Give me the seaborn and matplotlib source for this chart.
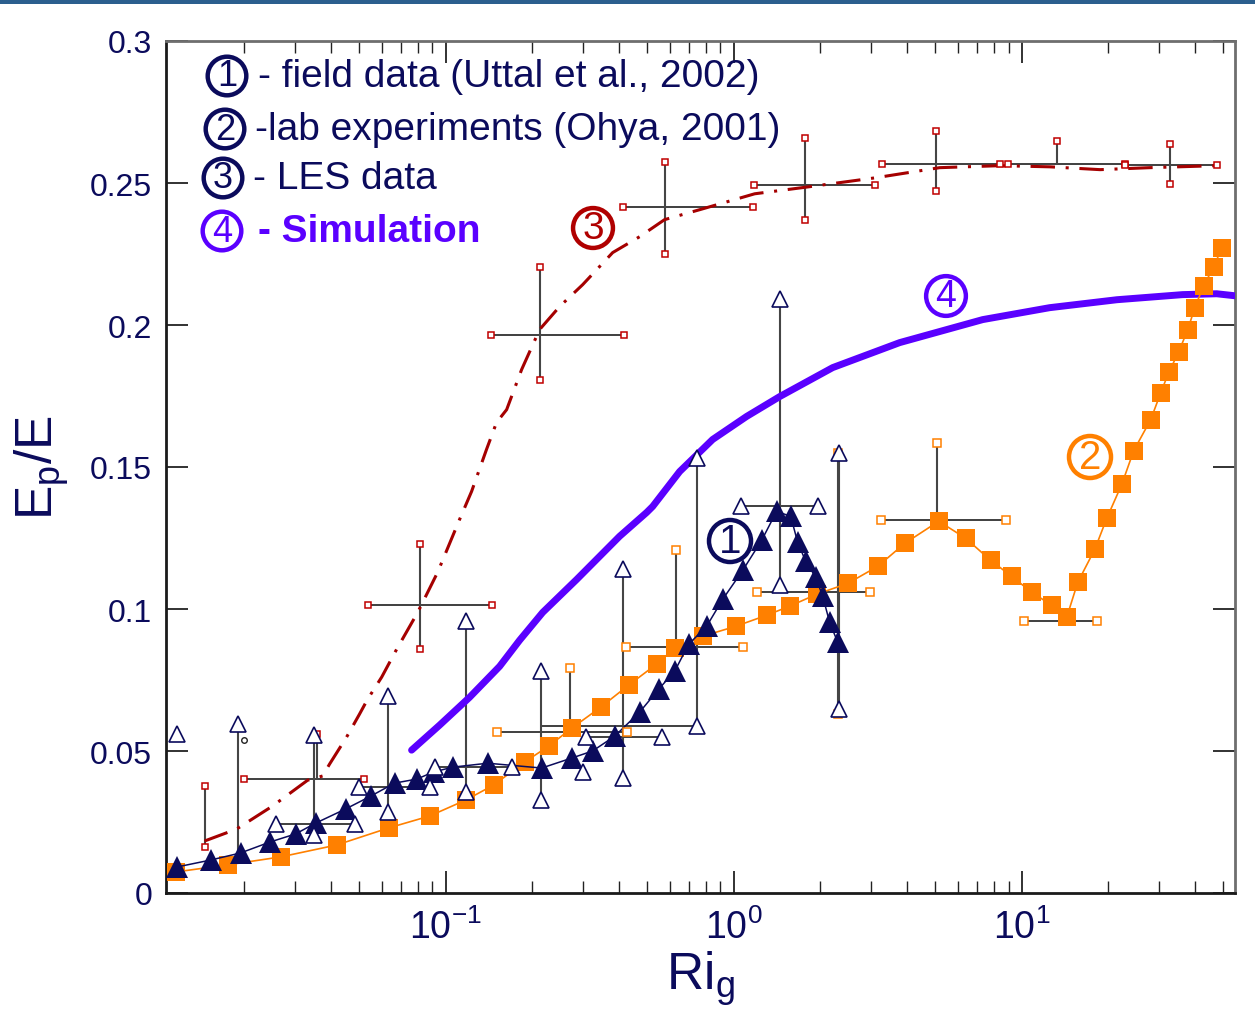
import numpy as np
import matplotlib
matplotlib.use('Agg')
import matplotlib.pyplot as plt
import seaborn as sns
from matplotlib.ticker import FuncFormatter, LogLocator, NullFormatter
from matplotlib.patches import Rectangle

nan = np.nan

#%% data
# 1 - field data (Uttal et al., 2002), filled triangles
field_ri = [0.01173, 0.01528, 0.01942, 0.02449, 0.03014, 0.03539, 0.0450, 0.05495, 0.06653, 0.07932,
            0.09084, 0.1057, 0.1400, 0.2155, 0.2738, 0.3238, 0.3862, 0.4718, 0.5495, 0.6241,
            0.6981, 0.8055, 0.9160, 1.075, 1.251, 1.410, 1.578, 1.668, 1.778, 1.926,
            2.037, 2.154, 2.297]
field_ep = [0.0092, 0.0116, 0.0141, 0.0179, 0.0208, 0.0246, 0.0296, 0.0341, 0.0387, 0.0401,
            0.0426, 0.0443, 0.0457, 0.0440, 0.0475, 0.0500, 0.0552, 0.0637, 0.0718, 0.0781,
            0.0876, 0.0939, 0.1034, 0.1136, 0.1242, 0.1344, 0.1326, 0.1235, 0.1168, 0.1112,
            0.1045, 0.0953, 0.0883]
# field data error bars (open triangles at the ends)
fe_x   = [0.01896, 0.0348, 0.0629, 0.1173, 0.2138, 0.4118, 0.7441, 1.445, 2.316]
fe_y   = [0.0141, 0.0243, 0.0373, 0.0443, 0.0587, 0.0549, 0.0601, 0.1361, 0.0883]
fe_xlo = [nan, 0.0257, 0.0499, 0.0916, nan, 0.306, nan, 1.057, nan]
fe_xhi = [nan, 0.0483, 0.0880, 0.1695, 0.7441, 0.5623, nan, 1.958, nan]
fe_ylo = [nan, 0.0204, 0.0285, 0.0355, 0.0327, 0.0405, nan, 0.1083, 0.0647]
fe_yhi = [0.0594, 0.0556, 0.0693, 0.0957, 0.0781, 0.1140, 0.1530, 0.2093, 0.1551]
lone_ri = [0.01173, 0.299]
lone_ep = [0.0559, 0.0426]

# 2 - lab experiments (Ohya, 2001), filled squares
lab_ri = [0.01155, 0.0175, 0.02674, 0.04185, 0.06339, 0.08799, 0.1173, 0.1468, 0.1880, 0.2278,
          0.2738, 0.3452, 0.4319, 0.5403, 0.6238, 0.7806, 1.016, 1.302, 1.565, 1.942,
          2.488, 3.162, 3.925, 5.150, 6.392, 7.805, 9.23, 10.83, 12.71, 14.33,
          15.65, 17.93, 19.73, 22.25, 24.49, 28.05, 30.39, 32.39, 35.09, 37.72,
          39.88, 42.85, 46.42, 49.49]
lab_ep = [0.0074, 0.0099, 0.0127, 0.0169, 0.0229, 0.0271, 0.0327, 0.0380, 0.0461, 0.0517,
          0.0580, 0.0654, 0.0732, 0.0806, 0.0862, 0.0904, 0.0939, 0.0978, 0.1010, 0.1052,
          0.1090, 0.1150, 0.1231, 0.1309, 0.1249, 0.1171, 0.1115, 0.1059, 0.1013, 0.0971,
          0.1094, 0.1210, 0.1319, 0.1439, 0.1558, 0.1667, 0.1762, 0.1833, 0.1906, 0.1984,
          0.2061, 0.2139, 0.2205, 0.2272]
le_x   = [0.2695, 0.6288, 2.297, 5.07, 14.33]
le_y   = [0.0566, 0.0865, 0.1059, 0.1312, 0.0957]
le_xlo = [0.1503, 0.4217, 1.202, 3.239, 10.16]
le_xhi = [0.4251, 1.075, 2.966, 8.80, 18.22]
le_ylo = [nan, nan, 0.0630, nan, nan]
le_yhi = [0.0791, 0.1206, 0.1551, 0.1583, nan]

# 3 - LES data
les_ri = [0.01456, 0.0188, 0.02506, 0.03318, 0.03741, 0.03956, 0.04532, 0.05026, 0.0536, 0.05998,
          0.0676, 0.0800, 0.0938, 0.1119, 0.1231, 0.1387, 0.1503, 0.1629, 0.1836, 0.2120,
          0.2488, 0.2991, 0.3802, 0.4718, 0.5757, 0.7621, 1.183, 1.835, 3.09, 5.19,
          8.39, 12.5, 18.7, 27.8, 47.5]
les_ep = [0.0183, 0.0225, 0.0306, 0.0397, 0.0412, 0.0454, 0.0549, 0.0630, 0.0682, 0.0760,
          0.0858, 0.0988, 0.1129, 0.1316, 0.1414, 0.1562, 0.1657, 0.1702, 0.1843, 0.1984,
          0.2065, 0.2142, 0.2255, 0.2311, 0.2371, 0.2406, 0.2462, 0.2487, 0.2518, 0.2554,
          0.2561, 0.2557, 0.2547, 0.2554, 0.2561]
se_x   = [0.01456, 0.0359, 0.0818, 0.2120, 0.5757, 1.764, 5.03, 13.23, 32.64]
se_y   = [0.0270, 0.0401, 0.1013, 0.1966, 0.2416, 0.2494, 0.2568, 0.2568, 0.2564]
se_xlo = [nan, 0.0199, 0.0536, 0.1433, 0.412, 1.18, 3.26, 8.94, 22.79]
se_xhi = [nan, 0.0519, 0.1445, 0.415, 1.17, 3.09, 8.39, 22.79, 47.5]
se_ylo = [0.0162, nan, 0.0858, 0.1808, 0.2251, 0.2371, 0.2473, nan, 0.2497]
se_yhi = [0.0376, 0.0559, 0.1228, 0.2205, 0.2575, 0.2659, 0.2684, 0.2649, 0.2638]

# 4 - Simulation
sim_ri = [0.0762, 0.0953, 0.1211, 0.154, 0.1807, 0.2173, 0.2851, 0.4018, 0.4989, 0.5234,
          0.6494, 0.8455, 1.109, 1.445, 2.207, 3.77, 7.32, 12.5, 21.4, 36.2, 47.5, 54.9]
sim_ep = [0.0503, 0.0591, 0.0689, 0.0798, 0.0890, 0.0988, 0.1104, 0.1256, 0.1340, 0.1361,
          0.1484, 0.1597, 0.1678, 0.1748, 0.1850, 0.1938, 0.2019, 0.2061, 0.2089, 0.2107,
          0.2110, 0.2103]

navy = '#0b0b5c'
orange = '#ff8000'
darkred = '#a50000'
purple = '#5a00ff'

#%% style
sns.set_style('ticks')
plt.rcParams['font.family'] = ['Liberation Sans', 'DejaVu Sans']
plt.rcParams['mathtext.default'] = 'regular'

W, H = 1255, 1012
fig, ax = plt.subplots(figsize=(W / 100, H / 100), dpi=100)
fig.subplots_adjust(left=166 / W, right=1235 / W, bottom=1 - 894 / H, top=1 - 42 / H)

def crosses(ax, cx, cy, xlo, xhi, ylo, yhi, **cap_kws):
    capx, capy = [], []
    for i in range(len(cx)):
        x0 = cx[i] if np.isnan(xlo[i]) else xlo[i]
        x1 = cx[i] if np.isnan(xhi[i]) else xhi[i]
        y0 = cy[i] if np.isnan(ylo[i]) else ylo[i]
        y1 = cy[i] if np.isnan(yhi[i]) else yhi[i]
        if x0 != x1:
            ax.plot([x0, x1], [cy[i], cy[i]], color='#303030', lw=1.3, zorder=2)
        if y0 != y1:
            ax.plot([cx[i], cx[i]], [y0, y1], color='#454545', lw=1.5, zorder=2)
        for v, px, py in [(xlo[i], xlo[i], cy[i]), (xhi[i], xhi[i], cy[i]),
                          (ylo[i], cx[i], ylo[i]), (yhi[i], cx[i], yhi[i])]:
            if not np.isnan(v):
                capx.append(px)
                capy.append(py)
    ax.plot(capx, capy, ls='none', zorder=5, **cap_kws)

crosses(ax, se_x, se_y, se_xlo, se_xhi, se_ylo, se_yhi,
        marker='s', ms=5, mfc='white', mec='#c00000', mew=1.1)
crosses(ax, le_x, le_y, le_xlo, le_xhi, le_ylo, le_yhi,
        marker='s', ms=6, mfc='white', mec=orange, mew=1.1)
crosses(ax, fe_x, fe_y, fe_xlo, fe_xhi, fe_ylo, fe_yhi,
        marker='^', ms=12, mfc='white', mec=navy, mew=1.2)
ax.plot(lone_ri, lone_ep, ls='none', marker='^', ms=12, mfc='white', mec=navy, mew=1.2, zorder=5)
ax.plot([0.0200], [0.0538], ls='none', marker='o', ms=4, mfc='white', mec='#222222', mew=1, zorder=5)

#%% curves
sns.lineplot(x=sim_ri, y=sim_ep, color=purple, lw=5, sort=False, estimator=None, ax=ax, zorder=3)
sns.lineplot(x=les_ri, y=les_ep, color=darkred, lw=2.2, linestyle=(0, (8, 3.5, 1, 3.5)),
             sort=False, estimator=None, ax=ax, zorder=3)
sns.lineplot(x=lab_ri, y=lab_ep, color=orange, lw=1.2, marker='s', markersize=12.5,
             markeredgecolor=orange, markeredgewidth=0, sort=False, estimator=None, ax=ax, zorder=3)
sns.lineplot(x=field_ri, y=field_ep, color=navy, lw=1.1, marker='^', markersize=16,
             markeredgecolor=navy, markeredgewidth=0, sort=False, estimator=None, ax=ax, zorder=4)

#%% axes
ax.set_xscale('log')
ax.set_xlim(0.0107, 55)
ax.set_ylim(0, 0.3)
ax.set_yticks(np.arange(0, 0.301, 0.05))
ax.yaxis.set_major_formatter(FuncFormatter(lambda v, p: f'{v:g}'))
ax.xaxis.set_major_locator(LogLocator(base=10))
ax.xaxis.set_minor_locator(LogLocator(base=10, subs=np.arange(2, 10)))
ax.xaxis.set_minor_formatter(NullFormatter())
ax.tick_params(which='major', direction='in', length=15.5, width=1.3, color='#222222',
               top=True, right=True, labelsize=23, labelcolor=navy, pad=10)
ax.tick_params(axis='x', which='major', labelsize=27, pad=11)
ax.tick_params(which='minor', direction='in', length=8.5, width=1.0, color='#222222',
               top=True, right=True)
for side in ['left', 'bottom']:
    ax.spines[side].set_color('#1a1a1a')
    ax.spines[side].set_linewidth(2)
for side in ['top', 'right']:
    ax.spines[side].set_color('#6e6e6e')
    ax.spines[side].set_linewidth(2)

ax.set_xlabel('Ri$_{g}$', fontsize=37, color=navy, labelpad=2)
ax.set_ylabel('E$_{p}$/E', fontsize=37, color=navy, labelpad=14)

#%% labels
def fpos(x, y):
    return x / W, 1 - y / H

def circled(x, y, digit, color, size=26, pad=0.05):
    fig.text(*fpos(x, y), digit, ha='center', va='center', fontsize=size, color=color,
             bbox=dict(boxstyle=f'circle,pad={pad}', fc='none', ec=color, lw=3.2), zorder=6)

legend_rows = [
    (227, 77, '1', 258, '- field data (Uttal et al., 2002)', navy, 'normal'),
    (225, 130, '2', 255, '-lab experiments (Ohya, 2001)', navy, 'normal'),
    (223, 179, '3', 253, '- LES data', navy, 'normal'),
    (222, 232, '4', 258, '- Simulation', purple, 'bold'),
]
for cxp, cyp, dg, tx, label, col, wt in legend_rows:
    circled(cxp, cyp, dg, col)
    fig.text(*fpos(tx, cyp), label, ha='left', va='center', fontsize=28, color=col, fontweight=wt)

circled(730, 542, '1', navy, size=29)
circled(1090, 458, '2', orange, size=29)
circled(593, 229, '3', '#b00000', size=28)
circled(946, 297, '4', purple, size=27)

# header band
fig.patches.append(Rectangle((0, 1 - 5 / H), 1, 5 / H, transform=fig.transFigure,
                             facecolor='#2b5f8e', edgecolor='none', zorder=10))

fig.savefig('out.png', dpi=100)
